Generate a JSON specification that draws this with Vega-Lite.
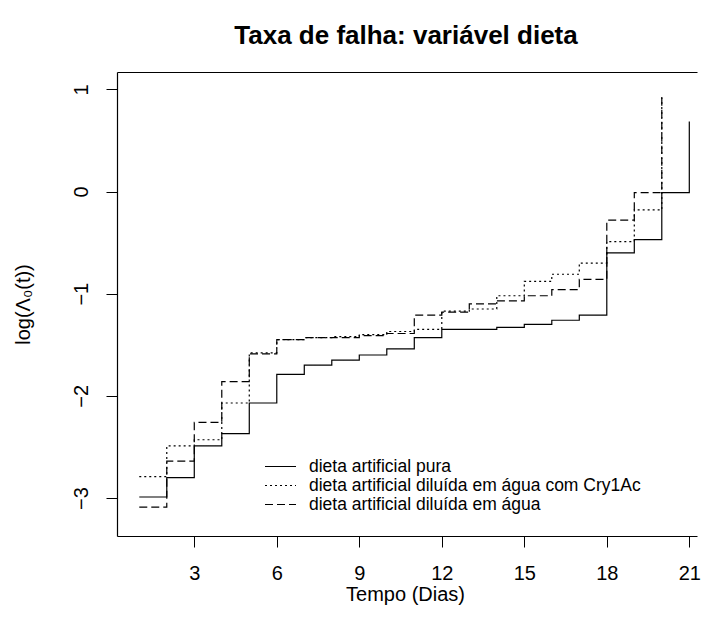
{
  "$schema": "https://vega.github.io/schema/vega-lite/v6.json",
  "autosize": "none",
  "width": 580,
  "height": 464,
  "padding": {"left": 117, "top": 72, "right": 5, "bottom": 95},
  "background": "white",
  "view": {"stroke": "transparent", "fill": "white"},
  "title": {
    "text": "Taxa de falha: variável dieta",
    "fontSize": 26,
    "fontWeight": "bold",
    "font": "Liberation Sans",
    "color": "black",
    "anchor": "middle",
    "offset": 23,
    "dx": -1
  },
  "datasets": {
    "curves": [
      {"dia": 1, "logH": -2.99, "serie": "dieta artificial pura"},
      {"dia": 2, "logH": -2.80, "serie": "dieta artificial pura"},
      {"dia": 3, "logH": -2.49, "serie": "dieta artificial pura"},
      {"dia": 4, "logH": -2.37, "serie": "dieta artificial pura"},
      {"dia": 5, "logH": -2.07, "serie": "dieta artificial pura"},
      {"dia": 6, "logH": -1.79, "serie": "dieta artificial pura"},
      {"dia": 7, "logH": -1.70, "serie": "dieta artificial pura"},
      {"dia": 8, "logH": -1.65, "serie": "dieta artificial pura"},
      {"dia": 9, "logH": -1.60, "serie": "dieta artificial pura"},
      {"dia": 10, "logH": -1.54, "serie": "dieta artificial pura"},
      {"dia": 11, "logH": -1.43, "serie": "dieta artificial pura"},
      {"dia": 12, "logH": -1.35, "serie": "dieta artificial pura"},
      {"dia": 13, "logH": -1.35, "serie": "dieta artificial pura"},
      {"dia": 14, "logH": -1.33, "serie": "dieta artificial pura"},
      {"dia": 15, "logH": -1.30, "serie": "dieta artificial pura"},
      {"dia": 16, "logH": -1.26, "serie": "dieta artificial pura"},
      {"dia": 17, "logH": -1.21, "serie": "dieta artificial pura"},
      {"dia": 18, "logH": -0.60, "serie": "dieta artificial pura"},
      {"dia": 19, "logH": -0.47, "serie": "dieta artificial pura"},
      {"dia": 20, "logH": -0.01, "serie": "dieta artificial pura"},
      {"dia": 21, "logH": 0.685, "serie": "dieta artificial pura"},

      {"dia": 1, "logH": -2.79, "serie": "dieta artificial diluída em água com Cry1Ac"},
      {"dia": 2, "logH": -2.49, "serie": "dieta artificial diluída em água com Cry1Ac"},
      {"dia": 3, "logH": -2.43, "serie": "dieta artificial diluída em água com Cry1Ac"},
      {"dia": 4, "logH": -2.07, "serie": "dieta artificial diluída em água com Cry1Ac"},
      {"dia": 5, "logH": -1.58, "serie": "dieta artificial diluída em água com Cry1Ac"},
      {"dia": 6, "logH": -1.45, "serie": "dieta artificial diluída em água com Cry1Ac"},
      {"dia": 7, "logH": -1.43, "serie": "dieta artificial diluída em água com Cry1Ac"},
      {"dia": 8, "logH": -1.42, "serie": "dieta artificial diluída em água com Cry1Ac"},
      {"dia": 9, "logH": -1.40, "serie": "dieta artificial diluída em água com Cry1Ac"},
      {"dia": 10, "logH": -1.37, "serie": "dieta artificial diluída em água com Cry1Ac"},
      {"dia": 11, "logH": -1.35, "serie": "dieta artificial diluída em água com Cry1Ac"},
      {"dia": 12, "logH": -1.17, "serie": "dieta artificial diluída em água com Cry1Ac"},
      {"dia": 13, "logH": -1.15, "serie": "dieta artificial diluída em água com Cry1Ac"},
      {"dia": 14, "logH": -1.02, "serie": "dieta artificial diluída em água com Cry1Ac"},
      {"dia": 15, "logH": -0.88, "serie": "dieta artificial diluída em água com Cry1Ac"},
      {"dia": 16, "logH": -0.81, "serie": "dieta artificial diluída em água com Cry1Ac"},
      {"dia": 17, "logH": -0.70, "serie": "dieta artificial diluída em água com Cry1Ac"},
      {"dia": 18, "logH": -0.49, "serie": "dieta artificial diluída em água com Cry1Ac"},
      {"dia": 19, "logH": -0.18, "serie": "dieta artificial diluída em água com Cry1Ac"},
      {"dia": 20, "logH": 0.955, "serie": "dieta artificial diluída em água com Cry1Ac"},

      {"dia": 1, "logH": -3.09, "serie": "dieta artificial diluída em água"},
      {"dia": 2, "logH": -2.64, "serie": "dieta artificial diluída em água"},
      {"dia": 3, "logH": -2.26, "serie": "dieta artificial diluída em água"},
      {"dia": 4, "logH": -1.86, "serie": "dieta artificial diluída em água"},
      {"dia": 5, "logH": -1.59, "serie": "dieta artificial diluída em água"},
      {"dia": 6, "logH": -1.45, "serie": "dieta artificial diluída em água"},
      {"dia": 7, "logH": -1.43, "serie": "dieta artificial diluída em água"},
      {"dia": 8, "logH": -1.43, "serie": "dieta artificial diluída em água"},
      {"dia": 9, "logH": -1.41, "serie": "dieta artificial diluída em água"},
      {"dia": 10, "logH": -1.39, "serie": "dieta artificial diluída em água"},
      {"dia": 11, "logH": -1.21, "serie": "dieta artificial diluída em água"},
      {"dia": 12, "logH": -1.18, "serie": "dieta artificial diluída em água"},
      {"dia": 13, "logH": -1.10, "serie": "dieta artificial diluída em água"},
      {"dia": 14, "logH": -1.07, "serie": "dieta artificial diluída em água"},
      {"dia": 15, "logH": -1.02, "serie": "dieta artificial diluída em água"},
      {"dia": 16, "logH": -0.96, "serie": "dieta artificial diluída em água"},
      {"dia": 17, "logH": -0.86, "serie": "dieta artificial diluída em água"},
      {"dia": 18, "logH": -0.28, "serie": "dieta artificial diluída em água"},
      {"dia": 19, "logH": -0.01, "serie": "dieta artificial diluída em água"},
      {"dia": 20, "logH": 0.955, "serie": "dieta artificial diluída em água"}
    ]
  },
  "data": {"name": "curves"},
  "layer": [
    {
      "mark": {"type": "line", "interpolate": "step-after", "color": "black", "strokeWidth": 1.2},
      "encoding": {
        "x": {
          "field": "dia",
          "type": "quantitative",
          "scale": {"domain": [0.19, 21.28], "nice": false, "zero": false},
          "axis": {
            "orient": "bottom",
            "values": [3, 6, 9, 12, 15, 18, 21],
            "format": "d",
            "title": "Tempo (Dias)",
            "grid": false,
            "domain": true,
            "domainColor": "black",
            "domainWidth": 1.2,
            "tickSize": 11,
            "tickColor": "black",
            "tickWidth": 1,
            "labelFontSize": 20,
            "labelColor": "black",
            "labelFont": "Liberation Sans",
            "labelBaseline": "alphabetic",
            "labelPadding": 32,
            "labelFlush": false,
            "titleFontSize": 20,
            "titleFontWeight": "normal",
            "titleFont": "Liberation Sans",
            "titleColor": "black",
            "titleAlign": "center",
            "titleBaseline": "alphabetic",
            "titleX": 288,
            "titleY": 64
          }
        },
        "y": {
          "field": "logH",
          "type": "quantitative",
          "scale": {"domain": [-3.372, 1.17], "nice": false, "zero": false},
          "axis": {
            "values": [-3, -2, -1, 0, 1],
            "format": "d",
            "title": "log(Λ₀(t))",
            "grid": false,
            "domain": true,
            "domainColor": "black",
            "domainWidth": 1.2,
            "tickSize": 11,
            "tickColor": "black",
            "tickWidth": 1,
            "labelFontSize": 20,
            "labelColor": "black",
            "labelFont": "Liberation Sans",
            "labelAngle": 270,
            "labelAlign": "center",
            "labelBaseline": "alphabetic",
            "labelPadding": 19,
            "labelFlush": false,
            "titleFontSize": 20,
            "titleFontWeight": "normal",
            "titleFont": "Liberation Sans",
            "titleColor": "black",
            "titleAngle": 270,
            "titleAlign": "center",
            "titleBaseline": "alphabetic",
            "titleX": -88,
            "titleY": 232
          }
        },
        "strokeDash": {
          "field": "serie",
          "type": "nominal",
          "scale": {
            "domain": ["dieta artificial pura", "dieta artificial diluída em água com Cry1Ac", "dieta artificial diluída em água"],
            "range": [[1, 0], [2, 3], [8, 4]]
          },
          "legend": {
            "orient": "none",
            "legendX": 147,
            "legendY": 385,
            "title": null,
            "symbolType": "stroke",
            "symbolSize": 961,
            "symbolStrokeWidth": 1.2,
            "symbolStrokeColor": "black",
            "labelFontSize": 17.5,
            "labelFont": "Liberation Sans",
            "labelColor": "black",
            "labelOffset": 12,
            "padding": 0,
            "clipHeight": 19,
            "rowPadding": 0,
            "labelLimit": 500
          }
        }
      }
    },
    {
      "mark": {"type": "line", "opacity": 0},
      "encoding": {
        "x": {
          "field": "dia",
          "type": "quantitative",
          "axis": {
            "orient": "top",
            "domain": true,
            "domainColor": "black",
            "domainWidth": 1.2,
            "ticks": false,
            "labels": false,
            "grid": false,
            "title": null
          }
        },
        "y": {"field": "logH", "type": "quantitative"},
        "detail": {"field": "serie", "type": "nominal"}
      }
    }
  ],
  "resolve": {"axis": {"x": "independent"}},
  "config": {
    "font": "Liberation Sans",
    "view": {"stroke": null}
  }
}
